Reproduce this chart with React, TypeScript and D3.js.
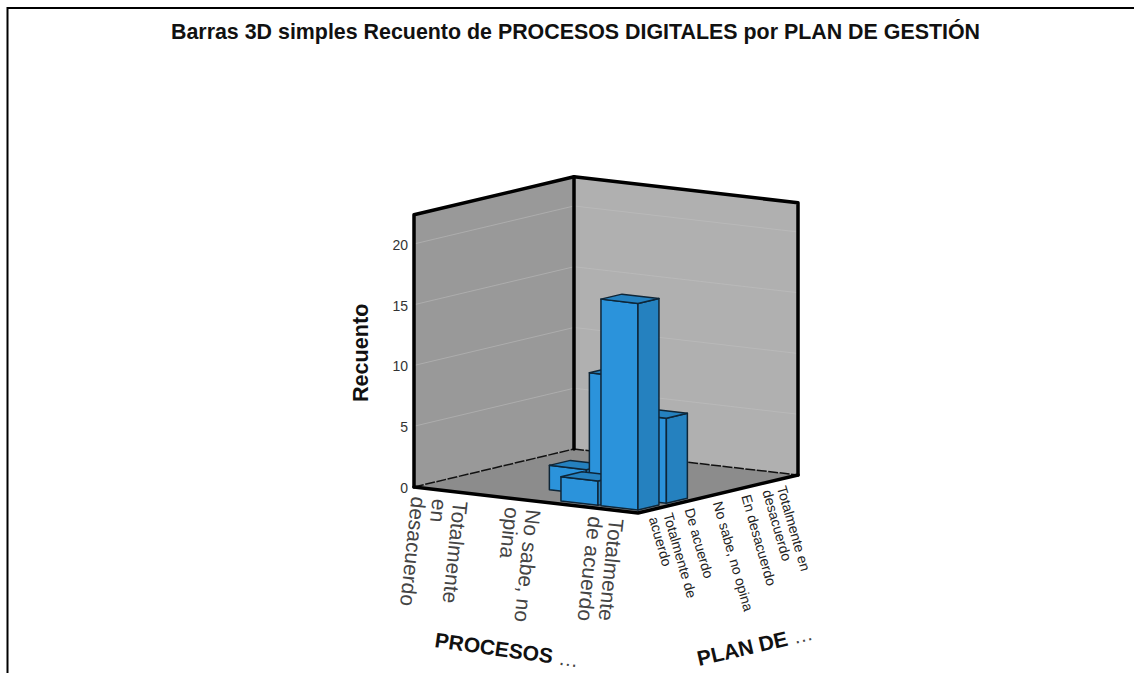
import React from "react";
import * as d3 from "d3";

const titleText = "Barras 3D simples Recuento de PROCESOS DIGITALES por PLAN DE GESTIÓN";
const procesosCategories = ["Totalmente de acuerdo", "De acuerdo", "No sabe, no opina", "En desacuerdo", "Totalmente en desacuerdo"];
const planCategories = ["Totalmente de acuerdo", "De acuerdo", "No sabe, no opina", "En desacuerdo", "Totalmente en desacuerdo"];
const procesosTickLabels: [string, string[]][] = [
  ["Totalmente de acuerdo", ["Totalmente", "de acuerdo"]],
  ["No sabe, no opina", ["No sabe, no", "opina"]],
  ["Totalmente en desacuerdo", ["Totalmente", "en", "desacuerdo"]],
];
const planTickLabels: [string, string[]][] = [
  ["Totalmente de acuerdo", ["Totalmente de", "acuerdo"]],
  ["De acuerdo", ["De acuerdo"]],
  ["No sabe, no opina", ["No sabe, no opina"]],
  ["En desacuerdo", ["En desacuerdo"]],
  ["Totalmente en desacuerdo", ["Totalmente en", "desacuerdo"]],
];
const barProcesos = ["No sabe, no opina", "De acuerdo", "Totalmente de acuerdo", "De acuerdo", "Totalmente de acuerdo"];
const barPlan = ["De acuerdo", "De acuerdo", "De acuerdo", "Totalmente de acuerdo", "Totalmente de acuerdo"];
const barCounts = [2, 10, 7, 2, 17];
const countTicks = [0, 5, 10, 15, 20];
const countMax = 22.4;

const W = 1134;
const H = 673;
const front: [number, number] = [638, 513];
const leftVec: [number, number] = [-224, -26];
const rightVec: [number, number] = [160, -38];

const uBand = d3.scaleBand<string>().domain(procesosCategories).range([0.038, 0.038 + 197 / 224]).paddingInner(3 / 40).paddingOuter(0);
const vBand = d3.scaleBand<string>().domain(planCategories).range([0.053, 0.053 + 134.6 / 160]).paddingInner(7.4 / 28.4).paddingOuter(0);
const zScale = d3.scaleLinear().domain([0, countMax]).range([0, 272.2]);

const project = (u: number, v: number, z: number): [number, number] => [
  front[0] + u * leftVec[0] + v * rightVec[0],
  front[1] + u * leftVec[1] + v * rightVec[1] - zScale(z),
];
const poly = (pts: [number, number][]) => d3.line()(pts)! + "Z";
const seg = (a: [number, number], b: [number, number]) => d3.line()([a, b])!;

const FRONT_FILL = "#2B93DB";
const DARK_FILL = "#2581BF";
const BAR_STROKE = "#0E2638";
const FONT = "'Liberation Sans', Arial, sans-serif";

export default function App() {
  const bars = barCounts
    .map((c, i) => {
      const u0 = uBand(barProcesos[i])!;
      const v0 = vBand(barPlan[i])!;
      const u1 = u0 + uBand.bandwidth();
      const v1 = v0 + vBand.bandwidth();
      return { c, u0, v0, u1, v1, key: i };
    })
    .sort((a, b) => b.u0 + b.v0 - (a.u0 + a.v0));

  return (
    <svg width={W} height={H} style={{ position: "absolute", left: 0, top: 0, background: "#fff" }} fontFamily={FONT}>
      <path d="M7.5,673V8H1134" fill="none" stroke="#000" strokeWidth={2} />
      <text x={575.5} y={39} textAnchor="middle" fontSize={21.4} fontWeight={700} fill="#111">{titleText}</text>

      {/* walls and floor */}
      <path d={poly([project(1, 0, 0), project(1, 1, 0), project(1, 1, countMax), project(1, 0, countMax)])} fill="#999999" />
      <path d={poly([project(1, 1, 0), project(0, 1, 0), project(0, 1, countMax), project(1, 1, countMax)])} fill="#B0B0B0" />
      <path d={poly([project(0, 0, 0), project(1, 0, 0), project(1, 1, 0), project(0, 1, 0)])} fill="#8C8C8C" />

      {countTicks.filter((t) => t > 0).map((t) => (
        <g key={t} fill="none" strokeWidth={1}>
          <path d={seg(project(1, 0, t), project(1, 1, t))} stroke="#ADADAD" />
          <path d={seg(project(1, 1, t), project(0, 1, t))} stroke="#B9B9B9" />
        </g>
      ))}

      {/* back edges of the floor */}
      <g fill="none" stroke="#111" strokeWidth={1.5} strokeDasharray="10 1.5">
        <path d={seg(project(1, 0, 0), project(1, 1, 0))} />
        <path d={seg(project(1, 1, 0), project(0, 1, 0))} />
      </g>

      {/* box frame */}
      <g fill="none" stroke="#000" strokeWidth={3.5} strokeLinejoin="round" strokeLinecap="round">
        <path d={d3.line()([project(1, 0, 0), project(1, 0, countMax), project(1, 1, countMax), project(0, 1, countMax), project(0, 1, 0)])!} />
        <path d={seg(project(1, 1, 0), project(1, 1, countMax))} />
        <path d={d3.line()([project(1, 0, 0), project(0, 0, 0), project(0, 1, 0)])!} />
      </g>

      {/* bars */}
      {bars.map((b) => (
        <g key={b.key} stroke={BAR_STROKE} strokeWidth={1.5} strokeLinejoin="round">
          <path d={poly([project(b.u0, b.v0, 0), project(b.u1, b.v0, 0), project(b.u1, b.v0, b.c), project(b.u0, b.v0, b.c)])} fill={FRONT_FILL} />
          <path d={poly([project(b.u0, b.v0, 0), project(b.u0, b.v1, 0), project(b.u0, b.v1, b.c), project(b.u0, b.v0, b.c)])} fill={DARK_FILL} />
          <path d={poly([project(b.u0, b.v0, b.c), project(b.u1, b.v0, b.c), project(b.u1, b.v1, b.c), project(b.u0, b.v1, b.c)])} fill={DARK_FILL} />
        </g>
      ))}

      {/* count axis */}
      {countTicks.map((t) => {
        const [x, y] = project(1, 0, t);
        return (
          <text key={t} x={x - 6} y={y + 6} textAnchor="end" fontSize={14} fill="#333">{t}</text>
        );
      })}
      <text transform="translate(368,402) rotate(-90)" fontSize={21.6} fontWeight={700} fill="#111">Recuento</text>

      {/* PROCESOS axis labels */}
      {procesosTickLabels.map(([cat, lines]) => {
        const u = uBand(cat)! + uBand.bandwidth() / 2;
        const [x, y] = project(u, 0, 0);
        return (
          <g key={cat} transform={`translate(${x - 11 - u * 9},${y + 7}) rotate(96)`}>
            {lines.map((l, i) => (
              <text key={i} x={0} y={(i - (lines.length - 1) / 2) * 21} fontSize={21} fill="#444">{l}</text>
            ))}
          </g>
        );
      })}

      {/* PLAN axis labels */}
      {planTickLabels.map(([cat, lines]) => {
        const [x, y] = project(0, vBand(cat)! + vBand.bandwidth() / 2, 0);
        return (
          <g key={cat} transform={`translate(${x - 1},${y + 8}) rotate(74)`}>
            {lines.map((l, i) => (
              <text key={i} x={0} y={(i - (lines.length - 1) / 2) * 15} fontSize={14} fill="#222">{l}</text>
            ))}
          </g>
        );
      })}

      <text transform="translate(434,647) rotate(8)" fontSize={21} fontWeight={700} fill="#111">
        PROCESOS <tspan fontWeight={400} fontSize={20} fill="#444">…</tspan>
      </text>
      <text transform="translate(699,666) rotate(-13)" fontSize={21} fontWeight={700} fill="#111">
        PLAN DE <tspan fontWeight={400} fontSize={20} fill="#444">…</tspan>
      </text>
    </svg>
  );
}
